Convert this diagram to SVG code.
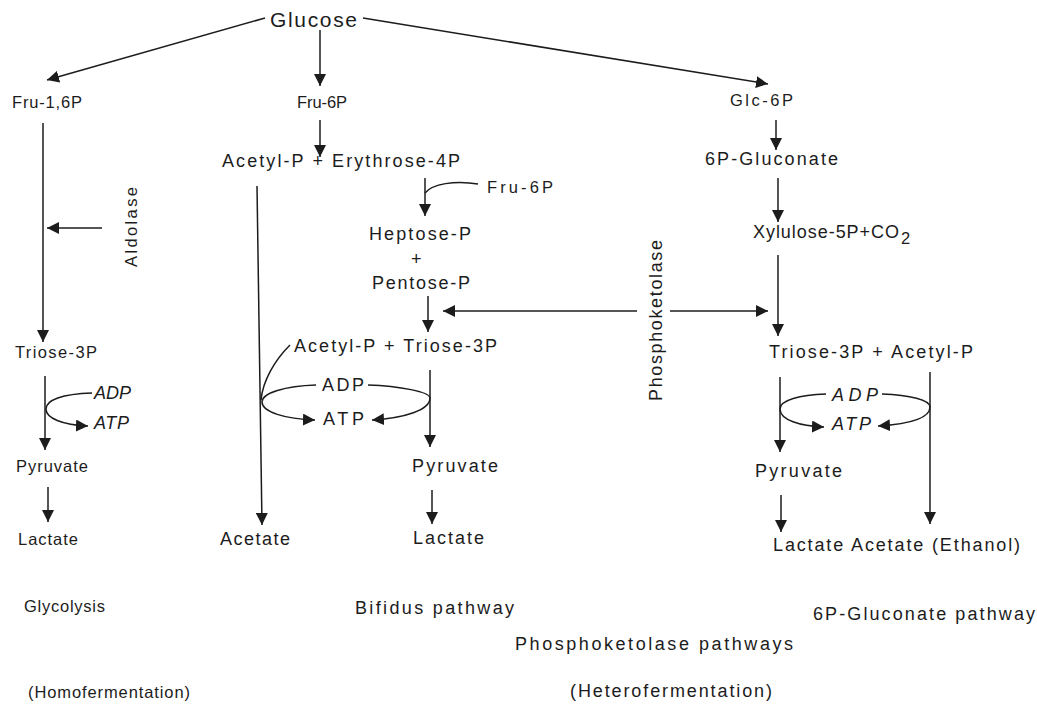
<svg xmlns="http://www.w3.org/2000/svg" width="1037" height="704" viewBox="0 0 1037 704">
<style>
text{font-family:"Liberation Sans",Arial,sans-serif;fill:#1c1c1c;font-size:16.5px}
.big{font-size:21px}
.m{font-size:18px}
.it{font-style:italic;font-size:18px}
.c{fill:none;stroke:#1c1c1c;stroke-width:1.5}
.a{marker-end:url(#ah)}
</style>
<defs>
<marker id="ah" markerUnits="userSpaceOnUse" markerWidth="12" markerHeight="12" viewBox="0 0 10 10" refX="10" refY="5" orient="auto">
<path d="M0,0 L10,5 L0,10 z" fill="#1c1c1c"/>
</marker>
</defs>
<rect width="1037" height="704" fill="#fff"/>
<g id="connectors">
<path class="c a" d="M265,18 L47,80"/>
<path class="c a" d="M320,30 L320,86"/>
<path class="c a" d="M363,18 L768,84"/>
<path class="c a" d="M320,120 L320,157"/>
<path class="c a" d="M43,123 L43,342"/>
<path class="c a" d="M102,228 L47,228"/>
<path class="c a" d="M45,376 L45,450"/>
<path class="c a" d="M92,393 C62,394 46,400 46,409 C46,418 62,425 88,426"/>
<path class="c a" d="M48,487 L48,522"/>
<path class="c a" d="M257,186 L262,525"/>
<path class="c" d="M290,345 C275,360 263,380 261,400"/>
<path class="c a" d="M425,178 L425,216"/>
<path class="c" d="M478,184 C455,180 432,184 425,193"/>
<path class="c a" d="M428,296 L428,332"/>
<path class="c a" d="M637,311 L443,311"/>
<path class="c a" d="M670,311 L768,311"/>
<path class="c a" d="M430,370 L430,447"/>
<path class="c a" d="M316,385 C285,386 262,393 262,402 C262,412 285,419 315,420"/>
<path class="c a" d="M368,385 C400,386 430,392 430,398 C430,410 405,418 372,420"/>
<path class="c a" d="M432,490 L432,524"/>
<path class="c a" d="M776,120 L776,150"/>
<path class="c a" d="M778,178 L778,222"/>
<path class="c a" d="M778,255 L778,336"/>
<path class="c a" d="M780,377 L780,452"/>
<path class="c a" d="M930,372 L930,524"/>
<path class="c a" d="M826,394 C800,395 780,400 780,409 C780,420 800,426 824,427"/>
<path class="c a" d="M882,394 C910,395 930,400 930,407 C930,418 910,424 878,426"/>
<path class="c a" d="M781,495 L781,532"/>
</g>
<g id="n-glucose"><text class="big" x="270" y="27" textLength="87">Glucose</text></g>
<g id="n-fru16p"><text x="12" y="108" textLength="70">Fru-1,6P</text></g>
<g id="n-fru6p"><text x="297" y="108" textLength="50">Fru-6P</text></g>
<g id="n-glc6p"><text x="730" y="106" textLength="63">Glc-6P</text></g>
<g id="n-acetyl-ery"><text class="m" x="222" y="167" textLength="238">Acetyl-P + Erythrose-4P</text></g>
<g id="n-fru6p-2"><text x="487" y="193" textLength="66">Fru-6P</text></g>
<g id="n-heptose"><text class="m" x="369" y="240" textLength="102">Heptose-P</text><text class="m" x="411" y="265">+</text><text class="m" x="372" y="289" textLength="98">Pentose-P</text></g>
<g id="n-6pglu"><text class="m" x="705" y="165" textLength="133">6P-Gluconate</text></g>
<g id="n-xylulose"><text class="m" x="753" y="238" textLength="146">Xylulose-5P+CO</text><text x="901" y="244" font-size="13">2</text></g>
<g id="n-triose-l"><text x="15" y="358" textLength="82">Triose-3P</text></g>
<g id="n-acetyl-triose"><text class="m" x="294" y="352" textLength="203">Acetyl-P + Triose-3P</text></g>
<g id="n-triose-acetyl"><text class="m" x="769" y="358" textLength="204">Triose-3P + Acetyl-P</text></g>
<g id="n-adp-l"><text class="it" x="94" y="399" textLength="37">ADP</text><text class="it" x="94" y="429" textLength="35">ATP</text></g>
<g id="n-adp-m"><text class="m" x="322" y="391" textLength="42">ADP</text><text class="m" x="323" y="425" textLength="41">ATP</text></g>
<g id="n-adp-r"><text class="it" x="832" y="401" textLength="46">ADP</text><text class="it" x="832" y="430" textLength="39">ATP</text></g>
<g id="n-pyr-l"><text x="16" y="472" textLength="72">Pyruvate</text></g>
<g id="n-pyr-m"><text class="m" x="412" y="472" textLength="86">Pyruvate</text></g>
<g id="n-pyr-r"><text class="m" x="755" y="477" textLength="87">Pyruvate</text></g>
<g id="n-lac-l"><text x="18" y="545" textLength="60">Lactate</text></g>
<g id="n-acetate-m"><text class="m" x="220" y="545" textLength="70">Acetate</text></g>
<g id="n-lac-m"><text class="m" x="413" y="544" textLength="71">Lactate</text></g>
<g id="n-lac-r"><text class="m" x="773" y="551" textLength="247">Lactate Acetate (Ethanol)</text></g>
<g id="l-aldolase"><text transform="translate(137,267) rotate(-90)" textLength="80">Aldolase</text></g>
<g id="l-phospho"><text class="m" transform="translate(662,401) rotate(-90)" textLength="161">Phosphoketolase</text></g>
<g id="labels">
<text x="24" y="612" textLength="81">Glycolysis</text>
<text class="m" x="355" y="614" textLength="159">Bifidus pathway</text>
<text class="m" x="813" y="620" textLength="222">6P-Gluconate pathway</text>
<text class="m" x="515" y="650" textLength="278">Phosphoketolase pathways</text>
<text x="28" y="698" textLength="162">(Homofermentation)</text>
<text class="m" x="570" y="697" textLength="202">(Heterofermentation)</text>
</g>
</svg>
